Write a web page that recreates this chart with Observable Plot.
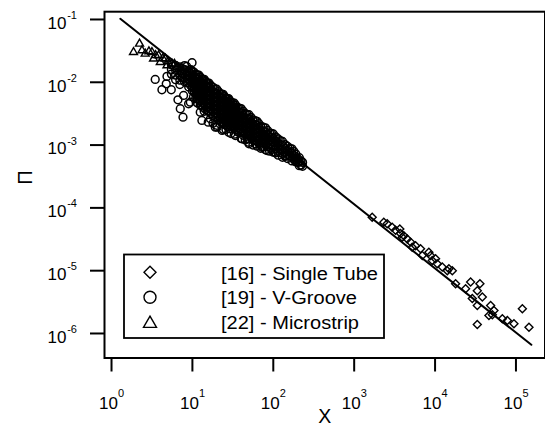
<!DOCTYPE html>
<html><head><meta charset="utf-8">
<script src="https://cdn.jsdelivr.net/npm/d3@7"></script>
<script src="https://cdn.jsdelivr.net/npm/@observablehq/plot@0.6"></script>
<style>
html,body{margin:0;padding:0;background:#fff;}
#chart{width:545px;height:427px;}
svg{display:block;}
</style></head><body><div id="chart"></div>
<script>
// ---- tick values and labels ----
const xTicks = [1, 10, 100, 1000, 10000, 100000];
const xTickExponents = ["0", "1", "2", "3", "4", "5"];
const yTicks = [1e-1, 1e-2, 1e-3, 1e-4, 1e-5, 1e-6];
const yTickExponents = ["-1", "-2", "-3", "-4", "-5", "-6"];
const seriesNames = ["[16] - Single Tube", "[19] - V-Groove", "[22] - Microstrip"];
const xLabel = "X";
const yLabel = "Π";

// ---- series: [X, Π] ----
const singleTube = [
  [1670,7.1e-5],[2323,5.9e-5],[2560,5.6e-5],[2950,4.9e-5],[3245,4.4e-5],[3665,4.6e-5],
  [3740,3.9e-5],[3930,3.4e-5],[4110,3.6e-5],[4530,3.2e-5],[4975,2.85e-5],[5220,2.37e-5],
  [5740,2.5e-5],[6610,2.23e-5],[6950,1.75e-5],[8380,1.97e-5],[8790,1.75e-5],[9230,1.45e-5],
  [10140,1.55e-5],[10640,1.29e-5],[12270,1.14e-5],[14820,1.07e-5],[16330,1.0e-5],[14160,1.0e-5],
  [17940,6.2e-6],[23850,5.15e-6],[27500,6.6e-6],[33270,4.8e-6],[35850,6.2e-6],[28860,3.6e-6],
  [33270,2.8e-6],[38400,3.8e-6],[48630,2.8e-6],[46340,1.94e-6],[51050,1.99e-6],[53460,2.32e-6],
  [67900,1.71e-6],[33270,1.39e-6],[94450,1.43e-6],[120000,2.47e-6],[144900,1.26e-6],[78300,1.61e-6]
];

const vGroove = [
  [5.5,0.019],[5.5,0.016],[5.5,0.0135],
  [6.2,0.0185],[6.2,0.0155],[6.2,0.013],[6.2,0.011],
  [7,0.0175],[7,0.015],[7,0.0128],[7,0.0108],[7,0.0092],
  [7.5,0.0165],[7.5,0.0138],[7.5,0.0118],
  [8,0.0184],[8,0.0159],[8,0.0137],[8,0.0118],[8,0.0102],
  [8.5,0.01788],[8.5,0.01544],[8.5,0.01334],[8.5,0.01152],[8.5,0.00995],
  [9,0.0151],[9,0.0131],[9,0.0113],[9,0.00975],[9,0.00841],
  [9.5,0.01595],[9.5,0.01377],[9.5,0.0119],[9.5,0.01028],[9.5,0.00887],
  [10,0.0151],[10,0.0131],[10,0.0113],[10,0.00976],[10,0.00842],[10,0.00728],
  [10.5,0.01441],[10.5,0.01244],[10.5,0.01075],[10.5,0.00929],[10.5,0.00802],[10.5,0.00692],
  [11,0.0133],[11,0.01146],[11,0.0099],[11,0.00855],[11,0.00738],[11,0.00637],[11,0.0055],
  [11.5,0.01313],[11.5,0.01133],[11.5,0.00979],[11.5,0.00846],[11.5,0.0073],[11.5,0.00631],[11.5,0.00544],[11.5,0.0047],
  [12,0.013],[12,0.01127],[12,0.00973],[12,0.00841],[12,0.00726],[12,0.00626],[12,0.00541],
  [12.5,0.01207],[12.5,0.01042],[12.5,0.009],[12.5,0.00778],[12.5,0.00671],[12.5,0.0058],[12.5,0.005],[12.5,0.00432],
  [13,0.0112],[13,0.00964],[13,0.00832],[13,0.00719],[13,0.00621],[13,0.00536],[13,0.0043],
  [13.5,0.01116],[13.5,0.00963],[13.5,0.00832],[13.5,0.00719],[13.5,0.00621],[13.5,0.00536],[13.5,0.00463],[13.5,0.004],
  [14,0.01115],[14,0.00963],[14,0.00831],[14,0.00719],[14,0.0062],[14,0.00535],[14,0.00463],[14,0.00345],
  [14.5,0.01036],[14.5,0.00895],[14.5,0.00773],[14.5,0.00668],[14.5,0.00576],[14.5,0.00498],[14.5,0.0043],[14.5,0.00371],
  [15,0.00967],[15,0.00834],[15,0.0072],[15,0.00622],[15,0.00537],[15,0.00464],[15,0.004],
  [15.5,0.00969],[15.5,0.00837],[15.5,0.00723],[15.5,0.00625],[15.5,0.00539],[15.5,0.00466],[15.5,0.00402],[15.5,0.00347],
  [16,0.00972],[16,0.00839],[16,0.00725],[16,0.00626],[16,0.00541],[16,0.00466],[16,0.00403],[16,0.00348],
  [17,0.00882],[17,0.00761],[17,0.00658],[17,0.00568],[17,0.0049],[17,0.00424],[17,0.00366],[17,0.00316],
  [18,0.00831],[18,0.00718],[18,0.0062],[18,0.00536],[18,0.00462],[18,0.00399],[18,0.00345],[18,0.00298],[18,0.00222],
  [19,0.00787],[19,0.00679],[19,0.00587],[19,0.00507],[19,0.00438],[19,0.00378],[19,0.00326],[19,0.00282],
  [20,0.00774],[20,0.00668],[20,0.00577],[20,0.00499],[20,0.0043],[20,0.00371],[20,0.00321],[20,0.00277],[20,0.00207],
  [21,0.0071],[21,0.00613],[21,0.0053],[21,0.00457],[21,0.00395],[21,0.00341],[21,0.00294],[21,0.00254],
  [22,0.00654],[22,0.00564],[22,0.00487],[22,0.00421],[22,0.00363],[22,0.00314],[22,0.00271],[22,0.00217],
  [23,0.00646],[23,0.00558],[23,0.00482],[23,0.00416],[23,0.00359],[23,0.0031],[23,0.00268],[23,0.00231],
  [24,0.00642],[24,0.00554],[24,0.00478],[24,0.00414],[24,0.00357],[24,0.00308],[24,0.00266],[24,0.0023],[24,0.00178],
  [25,0.00593],[25,0.00512],[25,0.00443],[25,0.00382],[25,0.0033],[25,0.00285],[25,0.00246],[25,0.00212],
  [26,0.00551],[26,0.00475],[26,0.0041],[26,0.00354],[26,0.00306],[26,0.00264],[26,0.00228],[26,0.00177],
  [27,0.00549],[27,0.00474],[27,0.00409],[27,0.00354],[27,0.00305],[27,0.00264],[27,0.00228],[27,0.00197],
  [28,0.0055],[28,0.00475],[28,0.0041],[28,0.00354],[28,0.00306],[28,0.00264],[28,0.00228],[28,0.00197],
  [29,0.0051],[29,0.00441],[29,0.00381],[29,0.00329],[29,0.00284],[29,0.00245],[29,0.00212],[29,0.00183],
  [30,0.00476],[30,0.0041],[30,0.00354],[30,0.00306],[30,0.00264],[30,0.00228],[30,0.00197],[30,0.00153],
  [31.5,0.0047],[31.5,0.00405],[31.5,0.0035],[31.5,0.00303],[31.5,0.00261],[31.5,0.00226],[31.5,0.00195],
  [33,0.00464],[33,0.004],[33,0.00346],[33,0.00299],[33,0.00258],[33,0.00222],[33,0.00192],[33,0.00149],
  [34.5,0.00428],[34.5,0.00369],[34.5,0.00319],[34.5,0.00276],[34.5,0.00238],[34.5,0.00205],[34.5,0.00177],
  [36,0.00396],[36,0.00341],[36,0.00294],[36,0.00254],[36,0.0022],[36,0.0019],[36,0.00164],
  [38,0.00387],[38,0.00334],[38,0.00289],[38,0.00249],[38,0.00215],[38,0.00186],[38,0.0016],
  [40,0.00381],[40,0.00329],[40,0.00284],[40,0.00246],[40,0.00212],[40,0.00183],[40,0.00158],[40,0.00127],
  [42.5,0.00346],[42.5,0.00299],[42.5,0.00258],[42.5,0.00223],[42.5,0.00192],[42.5,0.00166],[42.5,0.00143],
  [45,0.00316],[45,0.00272],[45,0.00235],[45,0.00203],[45,0.00175],[45,0.00151],[45,0.00121],
  [47.5,0.00307],[47.5,0.00265],[47.5,0.00229],[47.5,0.00198],[47.5,0.00171],[47.5,0.00148],[47.5,0.00127],
  [50,0.00304],[50,0.00263],[50,0.00227],[50,0.00196],[50,0.00169],[50,0.00146],[50,0.00126],[50,0.00105],
  [53,0.00276],[53,0.00239],[53,0.00206],[53,0.00178],[53,0.00154],[53,0.00133],
  [56,0.00252],[56,0.00217],[56,0.00187],[56,0.00162],[56,0.0014],[56,0.00121],[56,0.001],
  [59.5,0.00245],[59.5,0.00212],[59.5,0.00183],[59.5,0.00158],[59.5,0.00136],[59.5,0.00118],
  [63,0.00239],[63,0.00207],[63,0.00178],[63,0.00154],[63,0.00133],[63,0.00115],[63,0.00096],
  [66.5,0.00219],[66.5,0.00189],[66.5,0.00163],[66.5,0.00141],[66.5,0.00122],[66.5,0.00105],
  [70,0.00201],[70,0.00173],[70,0.00149],[70,0.00129],[70,0.00111],[70,0.00089],
  [75,0.00193],[75,0.00167],[75,0.00144],[75,0.00125],[75,0.00108],[75,0.00093],
  [80,0.00188],[80,0.00162],[80,0.0014],[80,0.00121],[80,0.00105],[80,0.00084],
  [85,0.00171],[85,0.00147],[85,0.00127],[85,0.0011],[85,0.00095],
  [90,0.00155],[90,0.00134],[90,0.00116],[90,0.001],[90,0.0008],
  [95,0.00153],[95,0.00132],[95,0.00114],[95,0.00098],[95,0.00085],
  [100,0.0015],[100,0.00129],[100,0.00111],[100,0.00096],[100,0.00077],
  [107,0.00135],[107,0.00116],[107,0.001],[107,0.00087],[107,0.00075],
  [115,0.00125],[115,0.00108],[115,0.00093],[115,0.0008],[115,0.00069],
  [122,0.00118],[122,0.00102],[122,0.00088],[122,0.00076],
  [130,0.00114],[130,0.00099],[130,0.00085],[130,0.00074],[130,0.00064],
  [140,0.00102],[140,0.00088],[140,0.00076],[140,0.00066],
  [150,0.00095],[150,0.00082],[150,0.00071],[150,0.00061],
  [160,0.00089],[160,0.00077],[160,0.00067],
  [170,0.00087],[170,0.00075],[170,0.00065],[170,0.00056],
  [180,0.00079],[180,0.00068],[180,0.00059],
  [190,0.00072],[190,0.00062],[190,0.00054],
  [200,0.00061],[200,0.00053],
  [210,0.00063],[210,0.00054],[210,0.00047],
  [220,0.00056],[220,0.00048],
  [230,0.00053],[230,0.00046],
  [9.9,0.0205],[3.47,0.0111],[4.85,0.0124],[4.2,0.0076],[5.48,0.0076],[4.75,0.00946],
  [6.63,0.00526],[7.65,0.00278],[7.08,0.00379],[8.97,0.00455],[10.3,0.00579],[12.5,0.00334],
  [16.7,0.00262],[20.2,0.00193],[7.78,0.00617],[9.42,0.00482],
  [13.1,0.00247],[15.7,0.00232],[19.2,0.00193],[23.3,0.00171],[28.1,0.0016],[34,0.00142],
  [41.1,0.00126],[49.6,0.00111],[60.1,0.00105],[72.6,0.000927],[83.7,0.00082],[106,0.00076],
  [141,0.00068],[188,0.00059]
];

const microstrip = [
  [1.87,0.0301],[2.22,0.041],[2.38,0.0321],[2.61,0.0284],[3.16,0.0301],[3.31,0.0237],
  [3.82,0.0267],[4.01,0.0209],[4.62,0.0237],[4.85,0.0185],[5.59,0.0197],[6.44,0.0174],
  [7.29,0.0166],[8.41,0.0143],[2.9,0.031],[3.5,0.027],[4.3,0.024],[5.0,0.0215],[6.0,0.0195]
];

const fitLine = [[1.285, 0.1026], [155000, 6.6e-7]];

// ---- chart ----
const font = '"Liberation Sans", Arial, sans-serif';
const plot = Plot.plot({
  width: 545, height: 427,
  marginLeft: 104, marginRight: 0.5, marginTop: 11.2, marginBottom: 69.5,
  style: {fontFamily: font, background: "white", color: "black", overflow: "visible"},
  x: {type: "log", domain: [0.819, 228600]},
  y: {type: "log", domain: [4.07e-7, 0.133]},
  marks: [
    Plot.dot(vGroove, {x: d => d[0], y: d => d[1], symbol: "circle", r: 3.9, stroke: "black", strokeWidth: 1.5, fill: "none"}),
    Plot.dot(microstrip, {x: d => d[0], y: d => d[1], symbol: "triangle2", r: 3.8, stroke: "black", strokeWidth: 1.4, fill: "none"}),
    Plot.dot(singleTube, {x: d => d[0], y: d => d[1], symbol: "diamond2", r: 3.6, stroke: "black", strokeWidth: 1.4, fill: "none"}),
    Plot.line(fitLine, {x: d => d[0], y: d => d[1], stroke: "black", strokeWidth: 2}),
    Plot.frame({stroke: "black", strokeWidth: 2}),
    Plot.axisX(xTicks, {tickSize: 14, strokeWidth: 2, tickFormat: () => "", label: null}),
    Plot.axisY(yTicks, {tickSize: 14, strokeWidth: 2, tickFormat: () => "", label: null}),
    Plot.text(xTicks, {x: d => d, frameAnchor: "bottom", dy: 50.8, dx: -3, text: () => "10", fontSize: 17, lineAnchor: "bottom", textAnchor: "middle", fill: "black"}),
    Plot.text(xTicks, {x: d => d, frameAnchor: "bottom", dy: 39.2, dx: 6.5, text: (d, i) => xTickExponents[i], fontSize: 11, lineAnchor: "bottom", textAnchor: "start", fill: "black"}),
    Plot.text(yTicks, {y: d => d, frameAnchor: "left", dx: -38, dy: 9.3, text: () => "10", fontSize: 17, lineAnchor: "bottom", textAnchor: "end", fill: "black"}),
    Plot.text(yTicks, {y: d => d, frameAnchor: "left", dx: -37.3, dy: -0.5, text: (d, i) => yTickExponents[i], fontSize: 11, lineAnchor: "bottom", textAnchor: "start", fill: "black"}),
    Plot.text([xLabel], {frameAnchor: "bottom", dy: 64.5, text: d => d, fontSize: 19.5, lineAnchor: "bottom", fill: "black"}),
    Plot.text([yLabel], {frameAnchor: "left", dx: -79, text: d => d, fontSize: 20, rotate: -90, fill: "black"})
  ]
});

// ---- legend ----
const svg = d3.select(plot);
const lg = svg.append("g");
lg.append("rect").attr("x", 124).attr("y", 254.5).attr("width", 260).attr("height", 83.5)
  .attr("fill", "white").attr("stroke", "black").attr("stroke-width", 1.8);
const legendSymbols = [d3.symbol(d3.symbolDiamond2, 92), d3.symbol(d3.symbolCircle, 113), d3.symbol(d3.symbolTriangle2, 121)];
const legendRowY = [272.3, 297.3, 323.6];
const legendBaseY = [279.5, 304, 328.5];
const legendTextLen = [157, 136, 138];
seriesNames.forEach((name, i) => {
  lg.append("path").attr("d", legendSymbols[i]()).attr("transform", `translate(150,${legendRowY[i]})`)
    .attr("fill", "none").attr("stroke", "black").attr("stroke-width", 1.4);
  lg.append("text").attr("x", 221).attr("y", legendBaseY[i]).attr("font-size", 18)
    .attr("font-family", font).attr("fill", "black").attr("text-anchor", "start")
    .attr("textLength", legendTextLen[i]).attr("lengthAdjust", "spacingAndGlyphs").text(name);
});

document.getElementById("chart").appendChild(plot);
</script>
</body></html>
